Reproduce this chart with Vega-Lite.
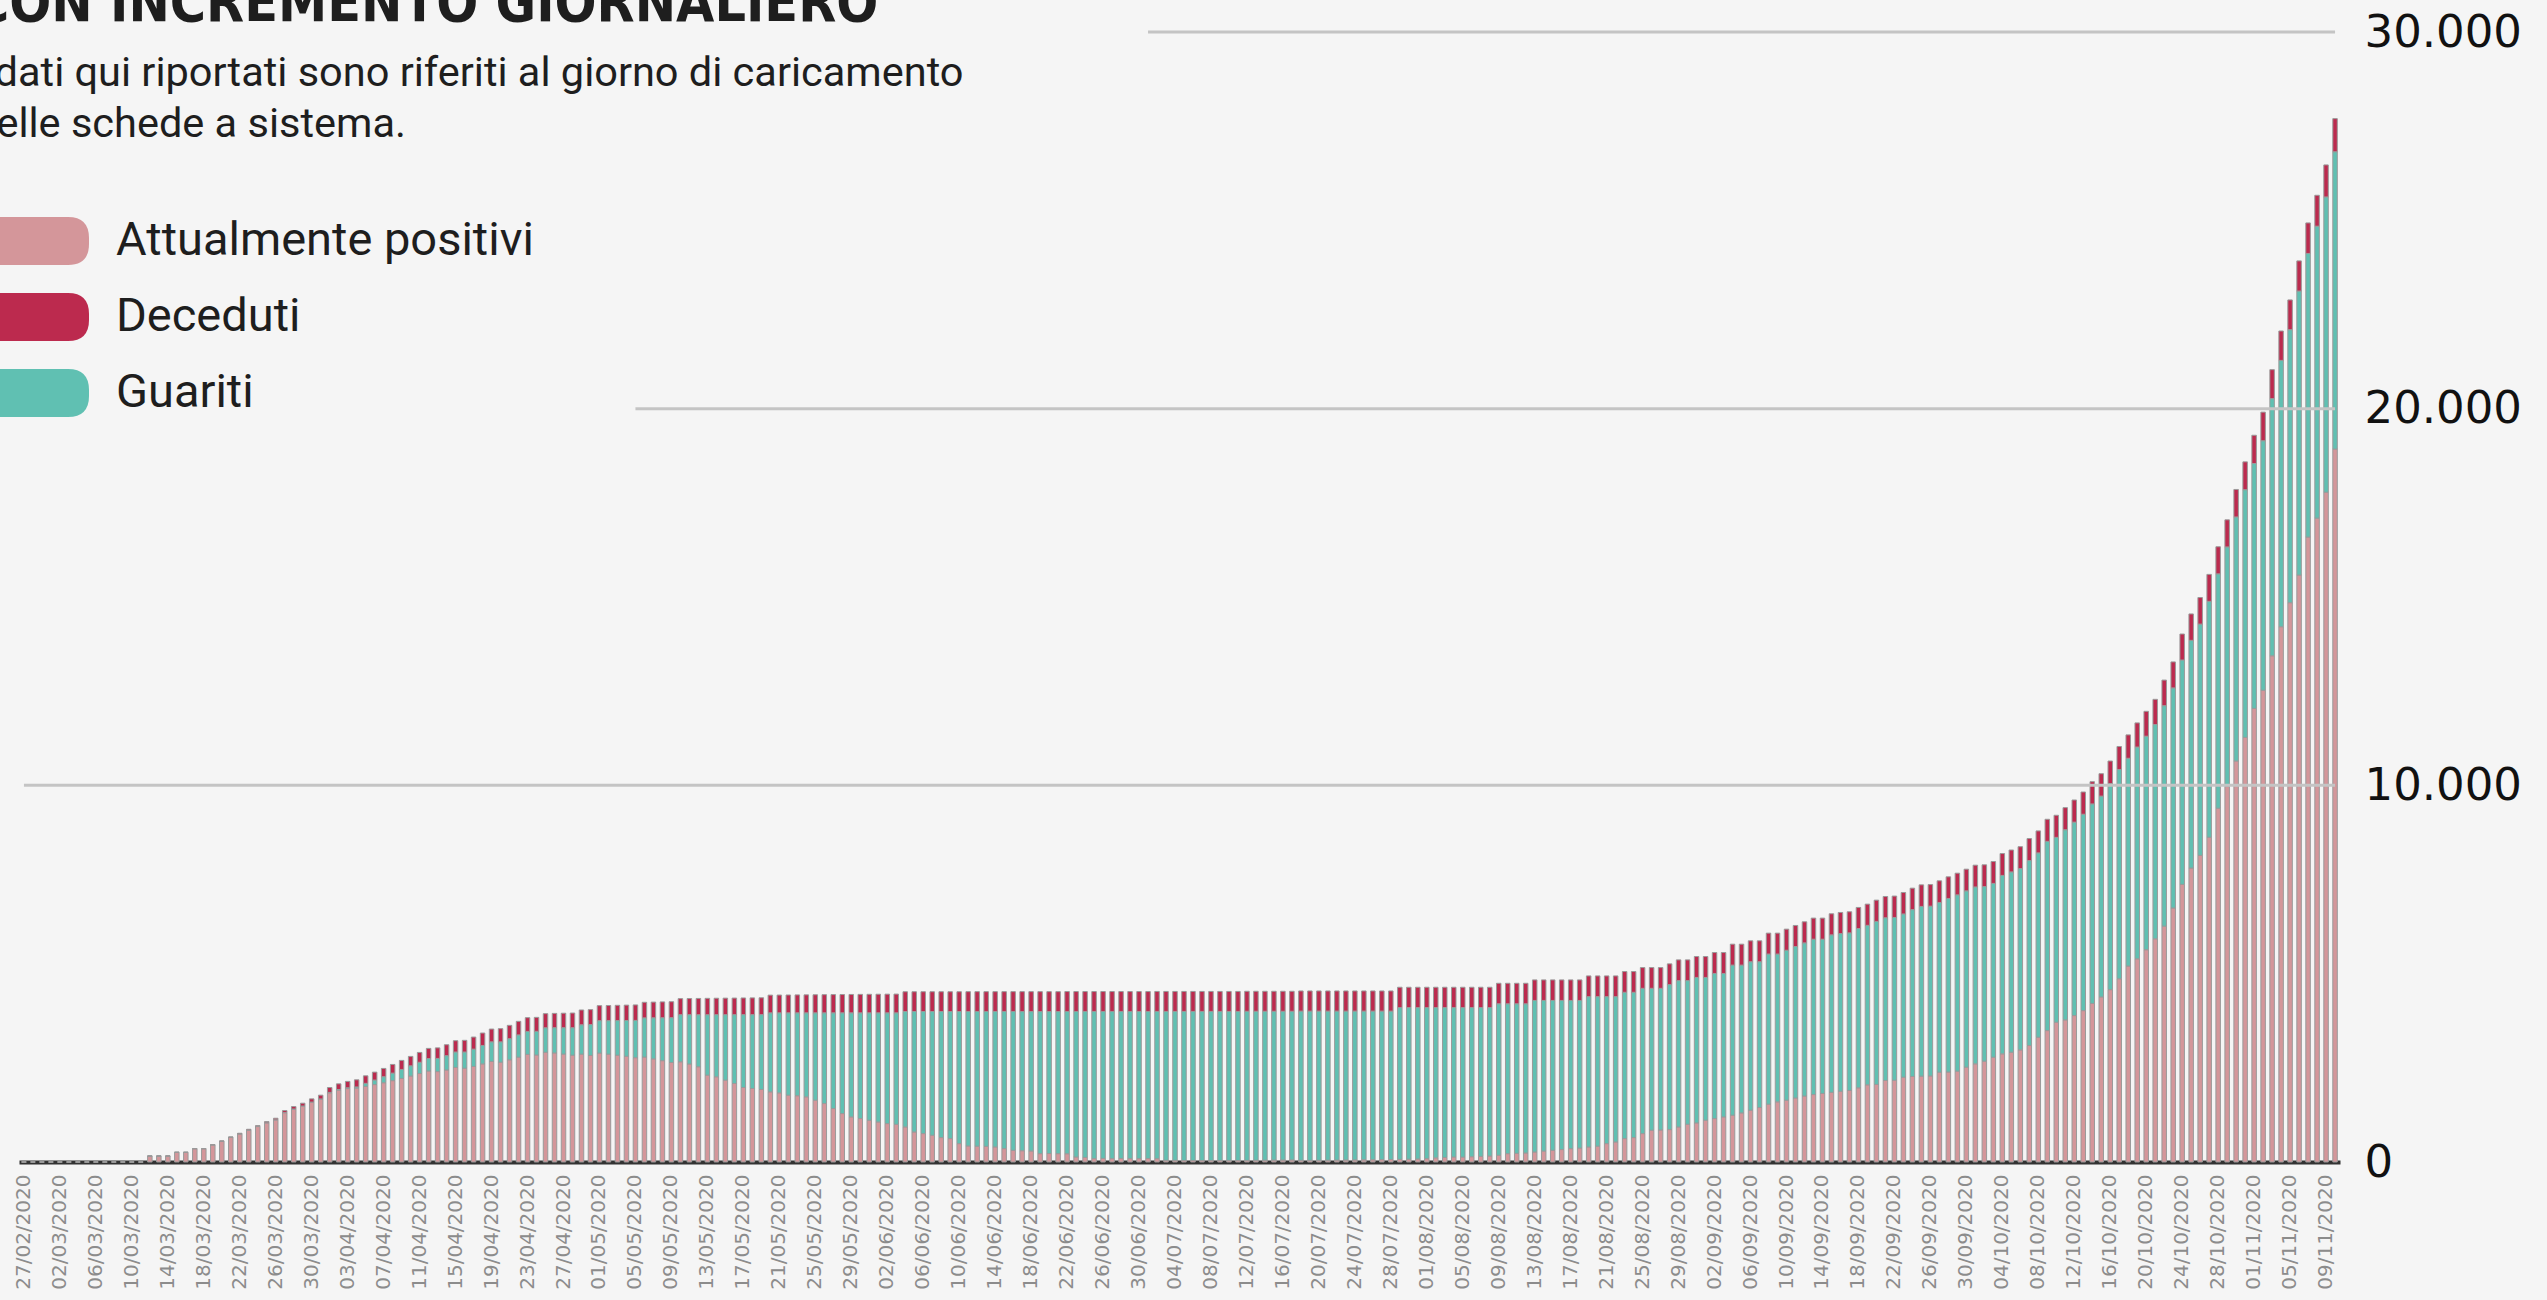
{
"$schema": "https://vega.github.io/schema/vega-lite/v6.json",
"autosize": {"type": "none"},
"width": 2321,
"height": 1130,
"padding": {"left": 19, "top": 32, "right": 207, "bottom": 138},
"background": "#f5f5f5",
"config": {"view": {"stroke": null}, "font": "Roboto"},
"title": {
  "text": "CON INCREMENTO GIORNALIERO",
  "subtitle": ["I dati qui riportati sono riferiti al giorno di caricamento", "delle schede a sistema."],
  "anchor": "start", "frame": "group", "orient": "top",
  "offset": -136, "dx": -46,
  "font": "DejaVu Sans Condensed, Roboto", "fontSize": 55, "fontWeight": "bold", "color": "#1e1e1e",
  "subtitleFont": "Roboto", "subtitleFontSize": 41.5, "subtitleColor": "#1e1e1e", "subtitleLineHeight": 51, "subtitlePadding": 20
},
"datasets": {
"casi": [
{"data":"27/02/2020","P":0,"G":0,"D":0},
{"data":"28/02/2020","P":0,"G":0,"D":0},
{"data":"29/02/2020","P":0,"G":0,"D":0},
{"data":"01/03/2020","P":0,"G":0,"D":0},
{"data":"02/03/2020","P":0,"G":0,"D":0},
{"data":"03/03/2020","P":0,"G":0,"D":0},
{"data":"04/03/2020","P":0,"G":0,"D":0},
{"data":"05/03/2020","P":0,"G":0,"D":0},
{"data":"06/03/2020","P":0,"G":0,"D":0},
{"data":"07/03/2020","P":0,"G":0,"D":0},
{"data":"08/03/2020","P":0,"G":0,"D":0},
{"data":"09/03/2020","P":0,"G":0,"D":0},
{"data":"10/03/2020","P":0,"G":0,"D":0},
{"data":"11/03/2020","P":0,"G":0,"D":0},
{"data":"12/03/2020","P":160,"G":0,"D":0},
{"data":"13/03/2020","P":160,"G":0,"D":0},
{"data":"14/03/2020","P":160,"G":0,"D":0},
{"data":"15/03/2020","P":257,"G":0,"D":0},
{"data":"16/03/2020","P":257,"G":0,"D":0},
{"data":"17/03/2020","P":355,"G":0,"D":0},
{"data":"18/03/2020","P":355,"G":0,"D":0},
{"data":"19/03/2020","P":456,"G":0,"D":5},
{"data":"20/03/2020","P":551,"G":0,"D":8},
{"data":"21/03/2020","P":655,"G":0,"D":10},
{"data":"22/03/2020","P":748,"G":0,"D":15},
{"data":"23/03/2020","P":849,"G":0,"D":20},
{"data":"24/03/2020","P":942,"G":0,"D":25},
{"data":"25/03/2020","P":1043,"G":0,"D":30},
{"data":"26/03/2020","P":1122,"G":0,"D":40},
{"data":"27/03/2020","P":1311,"G":0,"D":55},
{"data":"28/03/2020","P":1407,"G":0,"D":65},
{"data":"29/03/2020","P":1486,"G":0,"D":75},
{"data":"30/03/2020","P":1591,"G":0,"D":85},
{"data":"31/03/2020","P":1669,"G":5,"D":100},
{"data":"01/04/2020","P":1838,"G":10,"D":130},
{"data":"02/04/2020","P":1910,"G":15,"D":150},
{"data":"03/04/2020","P":1950,"G":20,"D":170},
{"data":"04/04/2020","P":1962,"G":30,"D":190},
{"data":"05/04/2020","P":2008,"G":80,"D":200},
{"data":"06/04/2020","P":2056,"G":120,"D":210},
{"data":"07/04/2020","P":2104,"G":160,"D":220},
{"data":"08/04/2020","P":2160,"G":200,"D":230},
{"data":"09/04/2020","P":2217,"G":240,"D":240},
{"data":"10/04/2020","P":2283,"G":270,"D":250},
{"data":"11/04/2020","P":2349,"G":300,"D":260},
{"data":"12/04/2020","P":2416,"G":330,"D":270},
{"data":"13/04/2020","P":2400,"G":350,"D":280},
{"data":"14/04/2020","P":2443,"G":380,"D":290},
{"data":"15/04/2020","P":2510,"G":410,"D":300},
{"data":"16/04/2020","P":2490,"G":430,"D":310},
{"data":"17/04/2020","P":2537,"G":460,"D":320},
{"data":"18/04/2020","P":2604,"G":490,"D":330},
{"data":"19/04/2020","P":2670,"G":520,"D":340},
{"data":"20/04/2020","P":2650,"G":540,"D":350},
{"data":"21/04/2020","P":2713,"G":560,"D":355},
{"data":"22/04/2020","P":2784,"G":590,"D":360},
{"data":"23/04/2020","P":2857,"G":610,"D":365},
{"data":"24/04/2020","P":2840,"G":630,"D":370},
{"data":"25/04/2020","P":2913,"G":650,"D":375},
{"data":"26/04/2020","P":2895,"G":670,"D":380},
{"data":"27/04/2020","P":2865,"G":700,"D":385},
{"data":"28/04/2020","P":2835,"G":730,"D":390},
{"data":"29/04/2020","P":2863,"G":780,"D":393},
{"data":"30/04/2020","P":2829,"G":820,"D":396},
{"data":"01/05/2020","P":2892,"G":860,"D":399},
{"data":"02/05/2020","P":2863,"G":890,"D":402},
{"data":"03/05/2020","P":2835,"G":920,"D":405},
{"data":"04/05/2020","P":2807,"G":950,"D":408},
{"data":"05/05/2020","P":2769,"G":990,"D":411},
{"data":"06/05/2020","P":2786,"G":1040,"D":414},
{"data":"07/05/2020","P":2738,"G":1090,"D":417},
{"data":"08/05/2020","P":2690,"G":1140,"D":420},
{"data":"09/05/2020","P":2642,"G":1190,"D":423},
{"data":"10/05/2020","P":2661,"G":1250,"D":426},
{"data":"11/05/2020","P":2601,"G":1310,"D":429},
{"data":"12/05/2020","P":2530,"G":1380,"D":432},
{"data":"13/05/2020","P":2306,"G":1604,"D":435},
{"data":"14/05/2020","P":2262,"G":1649,"D":437},
{"data":"15/05/2020","P":2173,"G":1738,"D":439},
{"data":"16/05/2020","P":2084,"G":1827,"D":441},
{"data":"17/05/2020","P":1978,"G":1934,"D":443},
{"data":"18/05/2020","P":1951,"G":1961,"D":445},
{"data":"19/05/2020","P":1925,"G":1988,"D":447},
{"data":"20/05/2020","P":1863,"G":2097,"D":470},
{"data":"21/05/2020","P":1836,"G":2124,"D":472},
{"data":"22/05/2020","P":1774,"G":2186,"D":474},
{"data":"23/05/2020","P":1760,"G":2200,"D":476},
{"data":"24/05/2020","P":1730,"G":2230,"D":478},
{"data":"25/05/2020","P":1641,"G":2319,"D":480},
{"data":"26/05/2020","P":1552,"G":2408,"D":482},
{"data":"27/05/2020","P":1419,"G":2541,"D":484},
{"data":"28/05/2020","P":1286,"G":2674,"D":486},
{"data":"29/05/2020","P":1197,"G":2763,"D":488},
{"data":"30/05/2020","P":1153,"G":2807,"D":490},
{"data":"31/05/2020","P":1109,"G":2851,"D":492},
{"data":"01/06/2020","P":1064,"G":2896,"D":494},
{"data":"02/06/2020","P":1020,"G":2940,"D":496},
{"data":"03/06/2020","P":1000,"G":2960,"D":498},
{"data":"04/06/2020","P":931,"G":3064,"D":525},
{"data":"05/06/2020","P":798,"G":3197,"D":525},
{"data":"06/06/2020","P":754,"G":3241,"D":525},
{"data":"07/06/2020","P":710,"G":3285,"D":525},
{"data":"08/06/2020","P":648,"G":3347,"D":525},
{"data":"09/06/2020","P":621,"G":3374,"D":525},
{"data":"10/06/2020","P":488,"G":3507,"D":525},
{"data":"11/06/2020","P":426,"G":3571,"D":525},
{"data":"12/06/2020","P":420,"G":3577,"D":525},
{"data":"13/06/2020","P":415,"G":3582,"D":525},
{"data":"14/06/2020","P":400,"G":3597,"D":525},
{"data":"15/06/2020","P":355,"G":3642,"D":525},
{"data":"16/06/2020","P":310,"G":3687,"D":525},
{"data":"17/06/2020","P":300,"G":3694,"D":528},
{"data":"18/06/2020","P":293,"G":3701,"D":528},
{"data":"19/06/2020","P":222,"G":3772,"D":528},
{"data":"20/06/2020","P":225,"G":3769,"D":528},
{"data":"21/06/2020","P":222,"G":3772,"D":528},
{"data":"22/06/2020","P":220,"G":3777,"D":528},
{"data":"23/06/2020","P":133,"G":3864,"D":528},
{"data":"24/06/2020","P":120,"G":3877,"D":528},
{"data":"25/06/2020","P":89,"G":3908,"D":528},
{"data":"26/06/2020","P":95,"G":3902,"D":528},
{"data":"27/06/2020","P":89,"G":3908,"D":528},
{"data":"28/06/2020","P":92,"G":3905,"D":528},
{"data":"29/06/2020","P":89,"G":3908,"D":528},
{"data":"30/06/2020","P":90,"G":3907,"D":528},
{"data":"01/07/2020","P":92,"G":3905,"D":528},
{"data":"02/07/2020","P":88,"G":3910,"D":530},
{"data":"03/07/2020","P":44,"G":3954,"D":530},
{"data":"04/07/2020","P":44,"G":3954,"D":530},
{"data":"05/07/2020","P":40,"G":3958,"D":530},
{"data":"06/07/2020","P":40,"G":3958,"D":530},
{"data":"07/07/2020","P":38,"G":3960,"D":530},
{"data":"08/07/2020","P":38,"G":3960,"D":530},
{"data":"09/07/2020","P":40,"G":3958,"D":530},
{"data":"10/07/2020","P":42,"G":3956,"D":530},
{"data":"11/07/2020","P":40,"G":3958,"D":530},
{"data":"12/07/2020","P":42,"G":3960,"D":530},
{"data":"13/07/2020","P":45,"G":3957,"D":530},
{"data":"14/07/2020","P":48,"G":3954,"D":530},
{"data":"15/07/2020","P":50,"G":3952,"D":530},
{"data":"16/07/2020","P":52,"G":3950,"D":530},
{"data":"17/07/2020","P":55,"G":3947,"D":530},
{"data":"18/07/2020","P":44,"G":3962,"D":535},
{"data":"19/07/2020","P":44,"G":3962,"D":535},
{"data":"20/07/2020","P":46,"G":3960,"D":535},
{"data":"21/07/2020","P":48,"G":3958,"D":535},
{"data":"22/07/2020","P":50,"G":3956,"D":535},
{"data":"23/07/2020","P":52,"G":3954,"D":535},
{"data":"24/07/2020","P":55,"G":3951,"D":535},
{"data":"25/07/2020","P":58,"G":3948,"D":535},
{"data":"26/07/2020","P":60,"G":3946,"D":535},
{"data":"27/07/2020","P":62,"G":3944,"D":535},
{"data":"28/07/2020","P":65,"G":3941,"D":535},
{"data":"29/07/2020","P":70,"G":4029,"D":540},
{"data":"30/07/2020","P":75,"G":4024,"D":540},
{"data":"31/07/2020","P":80,"G":4019,"D":540},
{"data":"01/08/2020","P":89,"G":4010,"D":540},
{"data":"02/08/2020","P":110,"G":3989,"D":540},
{"data":"03/08/2020","P":120,"G":3979,"D":540},
{"data":"04/08/2020","P":133,"G":3966,"D":540},
{"data":"05/08/2020","P":130,"G":3969,"D":540},
{"data":"06/08/2020","P":140,"G":3959,"D":540},
{"data":"07/08/2020","P":150,"G":3949,"D":540},
{"data":"08/08/2020","P":160,"G":3939,"D":540},
{"data":"09/08/2020","P":180,"G":4020,"D":545},
{"data":"10/08/2020","P":222,"G":3978,"D":545},
{"data":"11/08/2020","P":230,"G":3970,"D":545},
{"data":"12/08/2020","P":240,"G":3960,"D":545},
{"data":"13/08/2020","P":266,"G":4023,"D":545},
{"data":"14/08/2020","P":290,"G":3999,"D":545},
{"data":"15/08/2020","P":310,"G":3979,"D":545},
{"data":"16/08/2020","P":330,"G":3959,"D":545},
{"data":"17/08/2020","P":355,"G":3934,"D":545},
{"data":"18/08/2020","P":370,"G":3919,"D":545},
{"data":"19/08/2020","P":400,"G":3990,"D":550},
{"data":"20/08/2020","P":420,"G":3970,"D":550},
{"data":"21/08/2020","P":488,"G":3902,"D":550},
{"data":"22/08/2020","P":532,"G":3858,"D":550},
{"data":"23/08/2020","P":621,"G":3885,"D":550},
{"data":"24/08/2020","P":648,"G":3858,"D":550},
{"data":"25/08/2020","P":754,"G":3858,"D":550},
{"data":"26/08/2020","P":843,"G":3769,"D":550},
{"data":"27/08/2020","P":850,"G":3762,"D":550},
{"data":"28/08/2020","P":860,"G":3850,"D":550},
{"data":"29/08/2020","P":931,"G":3885,"D":550},
{"data":"30/08/2020","P":1002,"G":3814,"D":550},
{"data":"31/08/2020","P":1038,"G":3862,"D":555},
{"data":"01/09/2020","P":1109,"G":3791,"D":555},
{"data":"02/09/2020","P":1153,"G":3853,"D":555},
{"data":"03/09/2020","P":1197,"G":3809,"D":555},
{"data":"04/09/2020","P":1242,"G":3986,"D":555},
{"data":"05/09/2020","P":1304,"G":3924,"D":555},
{"data":"06/09/2020","P":1375,"G":3942,"D":555},
{"data":"07/09/2020","P":1446,"G":3871,"D":555},
{"data":"08/09/2020","P":1535,"G":3986,"D":555},
{"data":"09/09/2020","P":1597,"G":3924,"D":555},
{"data":"10/09/2020","P":1641,"G":3981,"D":560},
{"data":"11/09/2020","P":1700,"G":4020,"D":560},
{"data":"12/09/2020","P":1750,"G":4067,"D":560},
{"data":"13/09/2020","P":1790,"G":4125,"D":560},
{"data":"14/09/2020","P":1820,"G":4095,"D":560},
{"data":"15/09/2020","P":1850,"G":4180,"D":560},
{"data":"16/09/2020","P":1880,"G":4185,"D":560},
{"data":"17/09/2020","P":1899,"G":4184,"D":560},
{"data":"18/09/2020","P":1970,"G":4228,"D":560},
{"data":"19/09/2020","P":2049,"G":4235,"D":562},
{"data":"20/09/2020","P":2060,"G":4328,"D":564},
{"data":"21/09/2020","P":2164,"G":4319,"D":566},
{"data":"22/09/2020","P":2170,"G":4322,"D":568},
{"data":"23/09/2020","P":2252,"G":4333,"D":570},
{"data":"24/09/2020","P":2270,"G":4430,"D":570},
{"data":"25/09/2020","P":2279,"G":4507,"D":572},
{"data":"26/09/2020","P":2285,"G":4508,"D":572},
{"data":"27/09/2020","P":2385,"G":4506,"D":574},
{"data":"28/09/2020","P":2390,"G":4607,"D":574},
{"data":"29/09/2020","P":2412,"G":4680,"D":576},
{"data":"30/09/2020","P":2518,"G":4680,"D":576},
{"data":"01/10/2020","P":2606,"G":4696,"D":578},
{"data":"02/10/2020","P":2677,"G":4635,"D":578},
{"data":"03/10/2020","P":2783,"G":4614,"D":580},
{"data":"04/10/2020","P":2871,"G":4738,"D":580},
{"data":"05/10/2020","P":2915,"G":4786,"D":582},
{"data":"06/10/2020","P":2977,"G":4812,"D":582},
{"data":"07/10/2020","P":3092,"G":4911,"D":584},
{"data":"08/10/2020","P":3313,"G":4893,"D":584},
{"data":"09/10/2020","P":3489,"G":5024,"D":586},
{"data":"10/10/2020","P":3710,"G":4909,"D":586},
{"data":"11/10/2020","P":3772,"G":5048,"D":588},
{"data":"12/10/2020","P":3887,"G":5136,"D":588},
{"data":"13/10/2020","P":4019,"G":5214,"D":590},
{"data":"14/10/2020","P":4210,"G":5296,"D":590},
{"data":"15/10/2020","P":4383,"G":5331,"D":595},
{"data":"16/10/2020","P":4576,"G":5470,"D":600},
{"data":"17/10/2020","P":4865,"G":5556,"D":610},
{"data":"18/10/2020","P":5202,"G":5517,"D":620},
{"data":"19/10/2020","P":5395,"G":5622,"D":640},
{"data":"20/10/2020","P":5636,"G":5669,"D":660},
{"data":"21/10/2020","P":5925,"G":5688,"D":670},
{"data":"22/10/2020","P":6262,"G":5852,"D":680},
{"data":"23/10/2020","P":6744,"G":5842,"D":690},
{"data":"24/10/2020","P":7370,"G":5957,"D":690},
{"data":"25/10/2020","P":7804,"G":6046,"D":700},
{"data":"26/10/2020","P":8141,"G":6140,"D":705},
{"data":"27/10/2020","P":8622,"G":6263,"D":715},
{"data":"28/10/2020","P":9393,"G":6221,"D":720},
{"data":"29/10/2020","P":9971,"G":6358,"D":720},
{"data":"30/10/2020","P":10646,"G":6479,"D":730},
{"data":"31/10/2020","P":11272,"G":6576,"D":740},
{"data":"01/11/2020","P":12043,"G":6501,"D":750},
{"data":"02/11/2020","P":12524,"G":6624,"D":760},
{"data":"03/11/2020","P":13439,"G":6827,"D":770},
{"data":"04/11/2020","P":14210,"G":7072,"D":780},
{"data":"05/11/2020","P":14849,"G":7248,"D":790},
{"data":"06/11/2020","P":15582,"G":7541,"D":800},
{"data":"07/11/2020","P":16591,"G":7530,"D":810},
{"data":"08/11/2020","P":17094,"G":7751,"D":820},
{"data":"09/11/2020","P":17781,"G":7840,"D":850},
{"data":"10/11/2020","P":18927,"G":7893,"D":880}
],
"griglia": [
{"da":"27/02/2020","a":"10/11/2020","v":10000},
{"da":"05/05/2020","a":"10/11/2020","v":20000},
{"da":"01/07/2020","a":"10/11/2020","v":30000}
]
},
"layer": [
{
  "data": {"name": "casi"},
  "transform": [{"fold": ["P", "G", "D"], "as": ["serie", "valore"]}],
  "mark": {"type": "bar", "stroke": "#9a9a9a", "strokeWidth": 1},
  "encoding": {
    "x": {"field": "data", "type": "ordinal", "sort": null,
      "scale": {"paddingInner": 0.5, "paddingOuter": 0.3},
      "axis": {
        "values": ["27/02/2020","02/03/2020","06/03/2020","10/03/2020","14/03/2020","18/03/2020","22/03/2020","26/03/2020","30/03/2020","03/04/2020","07/04/2020","11/04/2020","15/04/2020","19/04/2020","23/04/2020","27/04/2020","01/05/2020","05/05/2020","09/05/2020","13/05/2020","17/05/2020","21/05/2020","25/05/2020","29/05/2020","02/06/2020","06/06/2020","10/06/2020","14/06/2020","18/06/2020","22/06/2020","26/06/2020","30/06/2020","04/07/2020","08/07/2020","12/07/2020","16/07/2020","20/07/2020","24/07/2020","28/07/2020","01/08/2020","05/08/2020","09/08/2020","13/08/2020","17/08/2020","21/08/2020","25/08/2020","29/08/2020","02/09/2020","06/09/2020","10/09/2020","14/09/2020","18/09/2020","22/09/2020","26/09/2020","30/09/2020","04/10/2020","08/10/2020","12/10/2020","16/10/2020","20/10/2020","24/10/2020","28/10/2020","01/11/2020","05/11/2020","09/11/2020"],
        "labelAngle": -90, "labelFont": "DejaVu Sans", "labelFontSize": 20, "labelColor": "#8c8c8c",
        "labelPadding": 12, "ticks": false, "tickSize": 0, "domainColor": "#333333", "domainWidth": 4,
        "title": null, "labelOverlap": false, "labelBound": false, "grid": false
      }
    },
    "y": {"field": "valore", "type": "quantitative", "stack": "zero",
      "scale": {"domain": [0, 30000], "nice": false},
      "axis": {"orient": "right", "values": [0, 10000, 20000, 30000], "grid": false, "domain": false, "ticks": false,
        "labelPadding": 24, "labelFont": "DejaVu Sans", "labelFontSize": 45, "labelColor": "#111111", "title": null,
        "labelExpr": "replace(format(datum.value, ','), ',', '.')"}
    },
    "color": {"field": "serie", "type": "nominal",
      "scale": {"domain": ["P", "D", "G"], "range": ["#d4969a", "#bc2a4e", "#60c0b2"]},
      "legend": {"orient": "none", "legendX": -50, "legendY": 185, "title": null,
        "symbolType": "M-0.65,-0.4 L0.65,-0.4 Q1,-0.4 1,-0.05 L1,0.05 Q1,0.4 0.65,0.4 L-0.65,0.4 Q-1,0.4 -1,0.05 L-1,-0.05 Q-1,-0.4 -0.65,-0.4 Z",
        "symbolSize": 14400, "symbolStrokeWidth": 0, "symbolOpacity": 1, "clipHeight": 48,
        "labelFont": "Roboto", "labelFontSize": 47, "labelColor": "#1e1e1e", "labelOffset": 27, "labelLimit": 0,
        "rowPadding": 28, "padding": 0,
        "labelExpr": "datum.label == 'P' ? 'Attualmente positivi' : datum.label == 'D' ? 'Deceduti' : 'Guariti'"}
    },
    "order": {"field": "serie", "sort": "descending"}
  }
},
{
  "data": {"name": "griglia"},
  "mark": {"type": "rule", "color": "#c4c4c4", "strokeWidth": 3},
  "encoding": {
    "x": {"field": "da", "type": "ordinal", "sort": null},
    "x2": {"field": "a"},
    "y": {"field": "v", "type": "quantitative"}
  }
}
]
}
